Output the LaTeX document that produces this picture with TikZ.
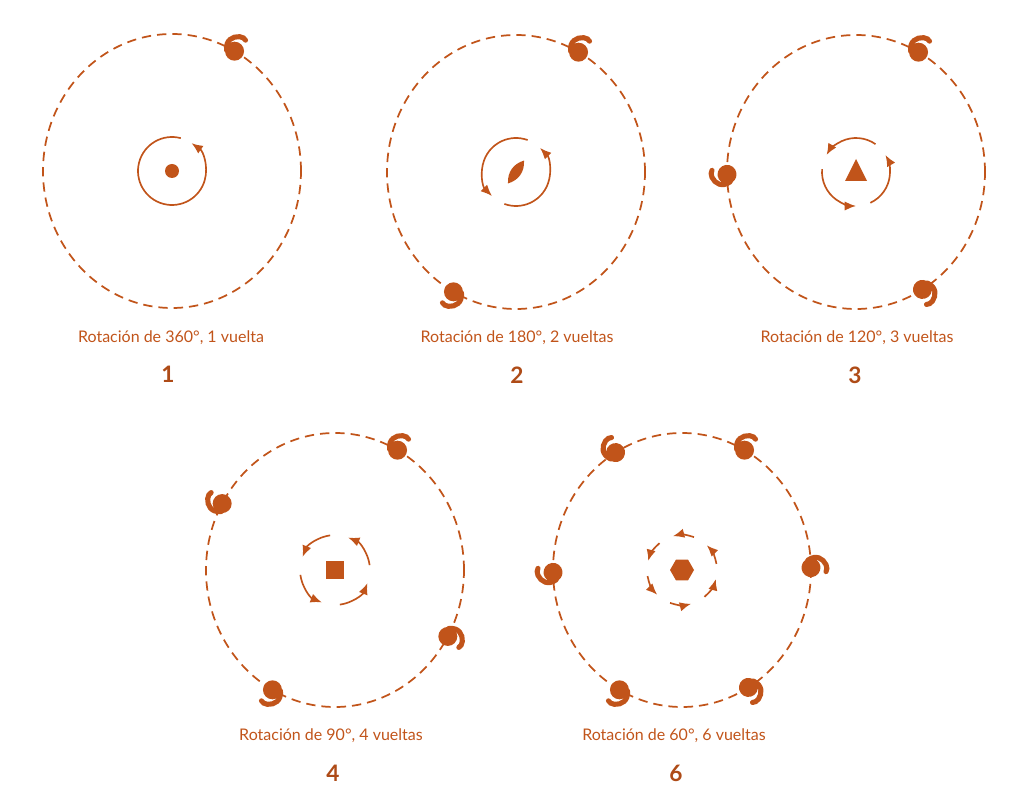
\documentclass[tikz,border=0pt]{standalone}
\usepackage{fontspec}
\setmainfont{Lato}
\usetikzlibrary{arrows.meta,calc}

\definecolor{rust}{RGB}{193,84,26}

\tikzset{
  orbit/.style={rust, line width=1.3pt, dash pattern=on 7pt off 4.5pt},
  spin/.style={rust, line width=1.25pt, -{Latex[length=8.5pt,width=7pt]}},
  seed/.pic={
    \fill (0,0) circle (9.5);
    \draw[line width=3.8pt, line cap=round] (-8,1) .. controls (-9,11) and (-2,15) .. (5,14.5)
      .. controls (8,14) and (10,13) .. (11,11);
  },
  caption/.style={text=rust, font=\fontsize{12}{14}\selectfont},
  panelnum/.style={text=rust!90!black, font=\fontsize{17}{19}\selectfont\bfseries}
}

\begin{document}
\begin{tikzpicture}[x=0.75pt, y=0.75pt]
\useasboundingbox (0,0) rectangle (1035,797);

\def\rx{129}
\def\ry{137}
\def\rs{34}

\coordinate (c1) at (172,626);
\coordinate (c2) at (516,625);
\coordinate (c3) at (856,625);
\coordinate (c4) at (335,227);
\coordinate (c6) at (682,227);

\foreach \c in {c1,c2,c3,c4,c6}
  \draw[orbit] (\c) ellipse [x radius=\rx, y radius=\ry];

\foreach \a in {61}
  \pic[rust, rotate=\a-61] at ($(c1)+({\rx*cos(\a)},{\ry*sin(\a)})$) {seed};
\foreach \a in {61,241}
  \pic[rust, rotate=\a-61] at ($(c2)+({\rx*cos(\a)},{\ry*sin(\a)})$) {seed};
\foreach \a in {61,181,301}
  \pic[rust, rotate=\a-61] at ($(c3)+({\rx*cos(\a)},{\ry*sin(\a)})$) {seed};
\foreach \a in {61,151,241,331}
  \pic[rust, rotate=\a-61] at ($(c4)+({\rx*cos(\a)},{\ry*sin(\a)})$) {seed};
\foreach \a in {1,61,121,181,241,301}
  \pic[rust, rotate=\a-61] at ($(c6)+({\rx*cos(\a)},{\ry*sin(\a)})$) {seed};

\draw[spin] ($(c1)+(75:\rs)$) arc[start angle=75, delta angle=340, radius=\rs];
\foreach \a in {70,250}
  \draw[spin] ($(c2)+(\a:\rs)$) arc[start angle=\a, delta angle=155, radius=\rs];
\foreach \a in {55,175,295}
  \draw[spin] ($(c3)+(\a:\rs)$) arc[start angle=\a, delta angle=95, radius=\rs];
\foreach \a in {8,98,188,278}
  \draw[spin] ($(c4)+(\a:35)$) arc[start angle=\a, delta angle=60, radius=35];
\foreach \a in {10,70,130,190,250,310}
  \draw[spin] ($(c6)+(\a:35)$) arc[start angle=\a, delta angle=35, radius=35];

\fill[rust] (c1) circle (7);
\fill[rust, shift={(c2)}, rotate=-35] (0,-14) .. controls (7,-5) and (7,5) .. (0,14)
  .. controls (-7,5) and (-7,-5) .. cycle;
\fill[rust, shift={(c3)}] (0,13) -- (-11,-9) -- (11,-9) -- cycle;
\fill[rust] ($(c4)+(-9,-9)$) rectangle ($(c4)+(9,9)$);
\fill[rust, shift={(c6)}] (0:12) \foreach \k in {1,...,5} { -- (\k*60:12) } -- cycle;

\node[caption] (lab1) at (171,459) {Rotación de 360°, 1 vuelta};
\node[caption] (lab2) at (517,459) {Rotación de 180°, 2 vueltas};
\node[caption] (lab3) at (857,459) {Rotación de 120°, 3 vueltas};
\node[caption] (lab4) at (331,61) {Rotación de 90°, 4 vueltas};
\node[caption] (lab6) at (674,61) {Rotación de 60°, 6 vueltas};

\node[panelnum] (num1) at (168,423) {1};
\node[panelnum] (num2) at (517,422) {2};
\node[panelnum] (num3) at (855,422) {3};
\node[panelnum] (num4) at (333,24) {4};
\node[panelnum] (num6) at (676,24) {6};

\end{tikzpicture}
\end{document}
